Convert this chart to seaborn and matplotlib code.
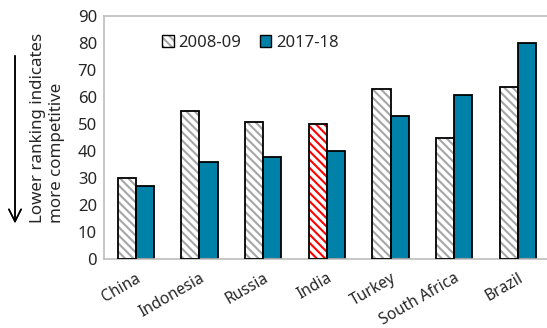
import pandas as pd
import matplotlib
matplotlib.use("Agg")
import matplotlib.pyplot as plt
import seaborn as sns
from matplotlib.patches import Patch, Rectangle

# Données
pays = ['China', 'Indonesia', 'Russia', 'India', 'Turkey', 'South Africa', 'Brazil']
rang_2008 = [30, 55, 51, 50, 63, 45, 64]
rang_2017 = [27, 36, 38, 40, 53, 61, 80]
periodes = ['2008-09', '2017-18']
y_ticks = [0, 10, 20, 30, 40, 50, 60, 70, 80, 90]

bleu = '#0081a7'
gris_hachure = '#a6a6a6'
gris_axe = '#bdbdbd'

sns.set_style('white')
plt.rcParams['font.family'] = ['Noto Sans', 'DejaVu Sans']
plt.rcParams['hatch.linewidth'] = 1.5

donnees = pd.DataFrame({
    'pays': pays * 2,
    'rang': rang_2008 + rang_2017,
    'periode': [periodes[0]] * len(pays) + [periodes[1]] * len(pays),
})

fig = plt.figure(figsize=(5.47, 3.28), dpi=100)
ax = fig.add_axes([0.19, 0.21, 0.815, 0.74])

sns.barplot(data=donnees, x='pays', y='rang', hue='periode', order=pays,
            hue_order=periodes, palette={periodes[0]: 'white', periodes[1]: bleu},
            width=0.57, gap=0, legend=False, ax=ax, errorbar=None, saturation=1)

# Barres hachurées (gris, et rouge pour l'Inde) + contour noir
barres = list(ax.patches)
for i, b in enumerate(barres[:len(pays)]):
    couleur = 'red' if pays[i] == 'India' else gris_hachure
    b.set_hatch('\\\\\\\\')
    b.set_edgecolor(couleur)
    b.set_linewidth(0)
    contour = Rectangle(b.get_xy(), b.get_width(), b.get_height(),
                        fill=False, edgecolor='black', linewidth=1.3, zorder=3)
    ax.add_patch(contour)
for b in barres[len(pays):]:
    b.set_edgecolor('black')
    b.set_linewidth(1.3)

ax.set_ylim(0, 90)
ax.set_xlim(-0.5, len(pays) - 0.5)
ax.set_yticks(y_ticks)
ax.set_xlabel('')
ax.set_ylabel('')
ax.tick_params(axis='y', labelsize=12, direction='in', length=3, color=gris_axe, pad=5)
ax.set_xticks(range(len(pays)))
ax.set_xticklabels(pays, rotation=30, ha='right', rotation_mode='anchor', fontsize=11.2)
ax.tick_params(axis='x', which='major', length=0, pad=8)
ax.set_xticks([i + 0.5 for i in range(len(pays) - 1)], minor=True)
ax.tick_params(axis='x', which='minor', direction='in', length=5, color=gris_axe, width=1)

for cote in ['top', 'left', 'bottom']:
    ax.spines[cote].set_color(gris_axe)
    ax.spines[cote].set_linewidth(1.2)
ax.spines['right'].set_visible(False)

# Légende
h1 = (Patch(facecolor='white', edgecolor=gris_hachure, hatch='\\\\\\\\', linewidth=0),
      Patch(facecolor='none', edgecolor='black', linewidth=1))
h2 = Patch(facecolor=bleu, edgecolor='black', linewidth=1)
ax.legend([h1, h2], periodes, loc='center left', bbox_to_anchor=(0.115, 0.89),
          ncol=2, frameon=False, fontsize=12, handlelength=0.7, handleheight=0.7,
          handletextpad=0.3, columnspacing=1.1, borderaxespad=0)

# Libellé de l'axe vertical avec flèche
fig.text(0.087, 1 - 223 / 328, 'Lower ranking indicates\nmore competitive',
         rotation=90, ha='center', va='bottom', multialignment='left',
         fontsize=12.2, linespacing=1.2)
fig.add_artist(plt.annotate('', xy=(15 / 547, 1 - 226 / 328), xytext=(15 / 547, 1 - 53 / 328),
                            xycoords='figure fraction',
                            arrowprops=dict(arrowstyle='->', lw=1.1, color='black',
                                            mutation_scale=22)))

fig.savefig('out.png', dpi=100)
